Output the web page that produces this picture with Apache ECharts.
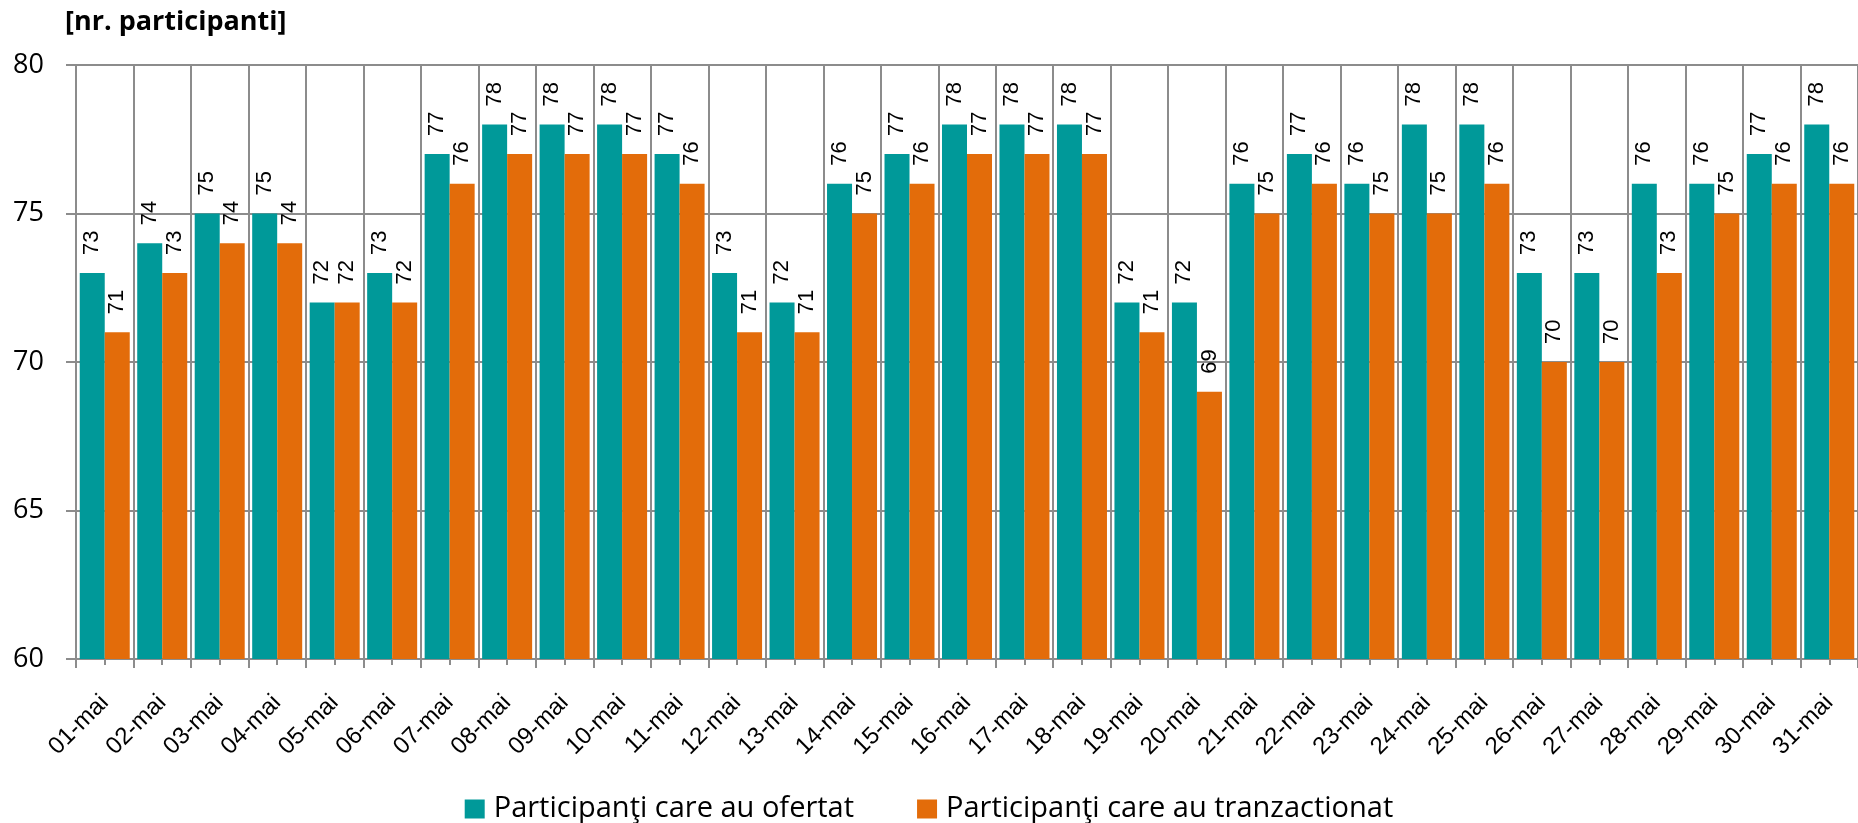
<!DOCTYPE html>
<html>
<head>
<meta charset="utf-8">
<script src="https://cdn.jsdelivr.net/npm/echarts@6/dist/echarts.min.js"></script>
<style>
  html, body { margin: 0; padding: 0; background: #fff; }
  #chart { width: 1858px; height: 823px; }
</style>
</head>
<body>
<div id="chart"></div>
<script>
// zilele lunii
var zile = ["01-mai", "02-mai", "03-mai", "04-mai", "05-mai", "06-mai", "07-mai", "08-mai",
  "09-mai", "10-mai", "11-mai", "12-mai", "13-mai", "14-mai", "15-mai", "16-mai", "17-mai",
  "18-mai", "19-mai", "20-mai", "21-mai", "22-mai", "23-mai", "24-mai", "25-mai", "26-mai",
  "27-mai", "28-mai", "29-mai", "30-mai", "31-mai"];
var ofertat = [73, 74, 75, 75, 72, 73, 77, 78, 78, 78, 77, 73, 72, 76, 77, 78, 78, 78, 72, 72,
  76, 77, 76, 78, 78, 73, 73, 76, 76, 77, 78];
var tranzactionat = [71, 73, 74, 74, 72, 72, 76, 77, 77, 77, 76, 71, 71, 75, 76, 77, 77, 77, 71, 69,
  75, 76, 75, 75, 76, 70, 70, 73, 75, 76, 76];
var yTicks = { min: 60, max: 80, interval: 5 };

var gri = "#8c8c8c";
var myChart = echarts.init(document.getElementById("chart"));

// eticheta verticala deasupra barei
var eticheta = {
  show: true,
  position: "top",
  rotate: 90,
  align: "left",
  verticalAlign: "middle",
  distance: 18,
  fontFamily: "Liberation Sans",
  fontSize: 22,
  color: "#000",
};

var option = {
  animation: false,
  title: {
    text: "[nr. participanti]",
    left: 60,
    top: 4,
    textStyle: { fontFamily: "Open Sans", fontWeight: "bold", fontSize: 27, color: "#000" },
  },
  legend: {
    top: 789,
    left: "center",
    itemWidth: 20,
    itemHeight: 19,
    itemGap: 63,
    icon: "rect",
    textStyle: { fontFamily: "Open Sans", fontSize: 29, color: "#000", lineHeight: 30, padding: [0, 0, 0, 4] },
    data: ["Participanţi care au ofertat", "Participanţi care au tranzactionat"],
  },
  grid: { left: 76, right: -5, top: 65, bottom: 164 },
  xAxis: [
    {
      type: "category",
      data: zile,
      position: "bottom",
      axisLine: { show: true, lineStyle: { color: gri, width: 2 } },
      axisTick: { show: true, length: 9, lineStyle: { color: gri, width: 2 } },
      splitLine: { show: true, lineStyle: { color: gri, width: 2 } },
      axisLabel: {
        rotate: 45,
        margin: 40,
        fontFamily: "Liberation Sans",
        fontSize: 24,
        color: "#000",
      },
    },
    {
      // liniute la mijlocul fiecarei grupe
      type: "category",
      data: zile,
      position: "bottom",
      axisLine: { show: false },
      axisTick: { show: true, alignWithLabel: true, length: 6, lineStyle: { color: gri, width: 2 } },
      axisLabel: { show: false },
      splitLine: { show: false },
    },
  ],
  yAxis: {
    type: "value",
    min: yTicks.min,
    max: yTicks.max,
    interval: yTicks.interval,
    axisLine: { show: false },
    axisTick: { show: true, length: 10, lineStyle: { color: gri, width: 2 } },
    splitLine: { show: true, lineStyle: { color: gri, width: 2 } },
    axisLabel: { margin: 32, fontFamily: "Open Sans", fontSize: 27, color: "#000" },
  },
  series: [
    {
      name: "Participanţi care au ofertat",
      type: "bar",
      data: ofertat,
      barGap: "0%",
      barCategoryGap: "13%",
      itemStyle: { color: "#009999" },
      label: eticheta,
    },
    {
      name: "Participanţi care au tranzactionat",
      type: "bar",
      data: tranzactionat,
      itemStyle: { color: "#e36c0a" },
      label: eticheta,
    },
  ],
};
myChart.setOption(option);
</script>
</body>
</html>
